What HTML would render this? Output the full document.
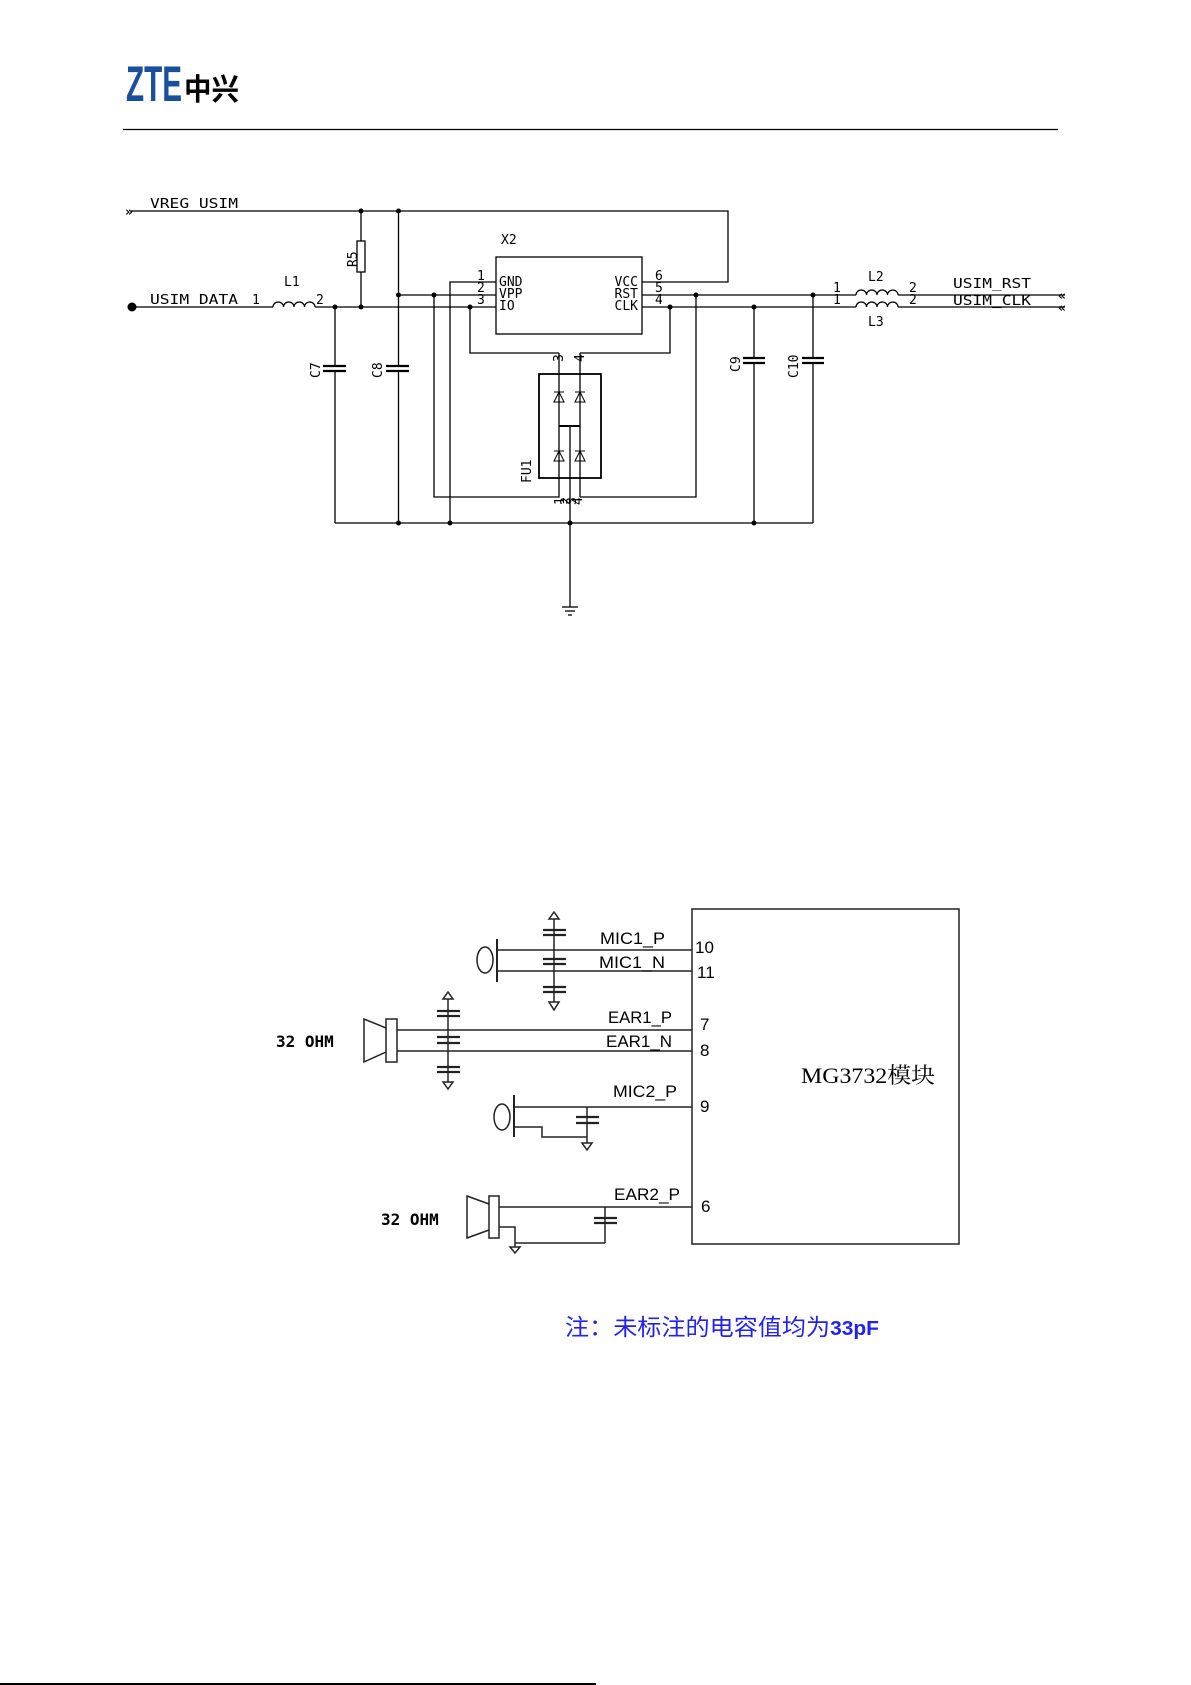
<!DOCTYPE html>
<html><head><meta charset="utf-8"><style>
html,body{margin:0;padding:0;background:#fff}
svg{display:block}
.m{font-family:"DejaVu Sans Mono","Liberation Mono",monospace;font-size:13px;fill:#000}
.s{font-family:"Liberation Sans",sans-serif;fill:#000}
</style></head><body>
<svg width="1191" height="1685" viewBox="0 0 1191 1685" xmlns="http://www.w3.org/2000/svg">
<text x="126" y="101" font-family="Liberation Sans,sans-serif" font-weight="bold" font-size="50" fill="#1a4f9c" textLength="56" lengthAdjust="spacingAndGlyphs">ZTE</text>
<text x="184" y="100" font-family="Liberation Sans,'Noto Sans CJK SC',sans-serif" font-weight="bold" font-size="30" fill="#000" textLength="55" lengthAdjust="spacingAndGlyphs">中兴</text>
<line x1="123" y1="129.5" x2="1058" y2="129.5" stroke="#000" stroke-width="1.2"/>
<line x1="0" y1="1684" x2="596" y2="1684" stroke="#000" stroke-width="2"/>

<g stroke="#000" stroke-width="1.3" fill="none">
<polyline points="131,211 728,211 728,282 642,282"/>
<line x1="361" y1="211" x2="361" y2="307"/>
<rect x="357" y="241" width="8" height="31" fill="#fff"/>
<line x1="398.5" y1="211" x2="398.5" y2="366"/>
<line x1="398.5" y1="371" x2="398.5" y2="523"/>
<line x1="131" y1="307" x2="273" y2="307"/>
<path d="M273,307 a5.25,5 0 0 1 10.5,0 a5.25,5 0 0 1 10.5,0 a5.25,5 0 0 1 10.5,0 a5.25,5 0 0 1 10.5,0"/>
<line x1="315" y1="307" x2="496" y2="307"/>
<line x1="335" y1="307" x2="335" y2="366"/>
<line x1="335" y1="371" x2="335" y2="523"/>
<line x1="335" y1="523" x2="813" y2="523"/>
<polyline points="496,282 450,282 450,523"/>
<line x1="398.5" y1="295" x2="496" y2="295"/>
<polyline points="434,295 434,497 559,497 559,353"/>
<polyline points="470,307 470,353 559,353"/>
<polyline points="580,353 670,353 670,307"/>
<line x1="580" y1="353" x2="580" y2="497"/>
<polyline points="580,497 696,497 696,295"/>
<rect x="496" y="257" width="146" height="77"/>
<rect x="539" y="374" width="62" height="104" stroke-width="1.8"/>
<line x1="559" y1="426" x2="580" y2="426" stroke-width="2"/>
<line x1="570" y1="426" x2="570" y2="607"/>
<line x1="642" y1="295" x2="856" y2="295"/>
<line x1="642" y1="307" x2="856" y2="307"/>
<path d="M856,295 a5.25,5 0 0 1 10.5,0 a5.25,5 0 0 1 10.5,0 a5.25,5 0 0 1 10.5,0 a5.25,5 0 0 1 10.5,0"/>
<path d="M856,307 a5.25,5 0 0 1 10.5,0 a5.25,5 0 0 1 10.5,0 a5.25,5 0 0 1 10.5,0 a5.25,5 0 0 1 10.5,0"/>
<line x1="898" y1="295" x2="1065" y2="295"/>
<line x1="898" y1="307" x2="1065" y2="307"/>
<line x1="754" y1="307" x2="754" y2="358"/><line x1="754" y1="363" x2="754" y2="523"/>
<line x1="813" y1="295" x2="813" y2="358"/><line x1="813" y1="363" x2="813" y2="523"/>
</g>
<g stroke="#000" stroke-width="2.2">
<line x1="323" y1="366" x2="346" y2="366"/><line x1="323" y1="371" x2="346" y2="371"/>
<line x1="386" y1="366" x2="409" y2="366"/><line x1="386" y1="371" x2="409" y2="371"/>
<line x1="743" y1="358" x2="765" y2="358"/><line x1="743" y1="363" x2="765" y2="363"/>
<line x1="802" y1="358" x2="824" y2="358"/><line x1="802" y1="363" x2="824" y2="363"/>
<line x1="562" y1="607" x2="578" y2="607" stroke-width="1.3"/>
<line x1="565" y1="611" x2="575" y2="611" stroke-width="1.3"/>
<line x1="568" y1="615" x2="572" y2="615" stroke-width="1.3"/>
</g>
<g stroke="#000" stroke-width="1" fill="none">
<path d="M554,392 h10 M554,402 l5,-10 l5,10 z"/>
<path d="M575,392 h10 M575,402 l5,-10 l5,10 z"/>
<path d="M554,451 h10 M554,461 l5,-10 l5,10 z"/>
<path d="M575,451 h10 M575,461 l5,-10 l5,10 z"/>
</g>
<g fill="#000">
<circle cx="361" cy="211" r="2.5"/><circle cx="398.5" cy="211" r="2.5"/>
<circle cx="398.5" cy="295" r="2.5"/><circle cx="434" cy="295" r="2.5"/>
<circle cx="335" cy="307" r="2.5"/><circle cx="361" cy="307" r="2.5"/><circle cx="470" cy="307" r="2.5"/>
<circle cx="398.5" cy="523" r="2.5"/><circle cx="450" cy="523" r="2.5"/><circle cx="570" cy="523" r="2.5"/><circle cx="754" cy="523" r="2.5"/>
<circle cx="696" cy="295" r="2.5"/><circle cx="670" cy="307" r="2.5"/><circle cx="754" cy="307" r="2.5"/><circle cx="813" cy="295" r="2.5"/>
<circle cx="132" cy="307" r="4.5"/>
<text x="125" y="216" class="m" font-weight="bold" font-size="15">»</text>
<text x="1058" y="300" class="m" font-weight="bold" font-size="15">«</text>
<text x="1058" y="312" class="m" font-weight="bold" font-size="15">«</text>
</g>
<text x="150" y="208" class="m" textLength="88" lengthAdjust="spacingAndGlyphs">VREG_USIM</text>
<text x="150" y="304" class="m" textLength="88" lengthAdjust="spacingAndGlyphs">USIM_DATA</text>
<text x="252" y="304" class="m">1</text>
<text x="284" y="286" class="m">L1</text>
<text x="316" y="304" class="m" font-size="11">2</text>
<text x="501" y="244" class="m">X2</text>
<text x="499" y="286" class="m" font-size="10">GND</text>
<text x="499" y="298" class="m" font-size="10">VPP</text>
<text x="499" y="310" class="m" font-size="10">IO</text>
<text x="638" y="286" class="m" font-size="10" text-anchor="end">VCC</text>
<text x="638" y="298" class="m" font-size="10" text-anchor="end">RST</text>
<text x="638" y="310" class="m" font-size="10" text-anchor="end">CLK</text>
<text x="477" y="280" class="m" font-size="10">1</text>
<text x="477" y="292" class="m" font-size="10">2</text>
<text x="477" y="304" class="m" font-size="10">3</text>
<text x="655" y="280" class="m" font-size="10">6</text>
<text x="655" y="292" class="m" font-size="10">5</text>
<text x="655" y="304" class="m" font-size="10">4</text>
<text x="868" y="281" class="m">L2</text>
<text x="868" y="326" class="m">L3</text>
<text x="833" y="292" class="m" font-size="11">1</text>
<text x="833" y="304" class="m" font-size="11">1</text>
<text x="909" y="292" class="m" font-size="11">2</text>
<text x="909" y="304" class="m" font-size="11">2</text>
<text x="953" y="288" class="m" textLength="78" lengthAdjust="spacingAndGlyphs">USIM_RST</text>
<text x="953" y="305" class="m" textLength="78" lengthAdjust="spacingAndGlyphs">USIM_CLK</text>
<text transform="translate(357,267) rotate(-90)" class="m">R5</text>
<text transform="translate(320,378) rotate(-90)" class="m">C7</text>
<text transform="translate(382,378) rotate(-90)" class="m">C8</text>
<text transform="translate(740,372) rotate(-90)" class="m">C9</text>
<text transform="translate(798,378) rotate(-90)" class="m">C10</text>
<text transform="translate(531,483) rotate(-90)" class="m">FU1</text>
<text transform="translate(563,362) rotate(-90)" class="m" font-size="9">3</text>
<text transform="translate(584,362) rotate(-90)" class="m" font-size="9">4</text>
<text transform="translate(564,505) rotate(-90)" class="m" font-size="9">1</text>
<text transform="translate(570,505) rotate(-90)" class="m" font-size="9">2</text>
<text transform="translate(576,505) rotate(-90)" class="m" font-size="9">3</text>
<text transform="translate(582,505) rotate(-90)" class="m" font-size="9">4</text>

<g stroke="#222" stroke-width="1.5" fill="none">
<rect x="692" y="909" width="267" height="335"/>
<line x1="497" y1="950" x2="692" y2="950"/><line x1="497" y1="971" x2="692" y2="971"/>
<line x1="497" y1="939" x2="497" y2="982" stroke-width="2"/>
<ellipse cx="485" cy="960" rx="8" ry="13"/>
<line x1="554" y1="919" x2="554" y2="1002"/>
<path d="M549,919 L554,912 L559,919 Z"/><path d="M549,1002 L559,1002 L554,1010 Z"/>
<line x1="397" y1="1030" x2="692" y2="1030"/><line x1="397" y1="1051" x2="692" y2="1051"/>
<rect x="386" y="1019" width="11" height="43"/>
<path d="M386,1028 L364,1019 L364,1062 L386,1052"/>
<line x1="448" y1="999" x2="448" y2="1082"/>
<path d="M443,999 L448,992 L453,999 Z"/><path d="M443,1082 L453,1082 L448,1089 Z"/>
<line x1="514" y1="1107" x2="692" y2="1107"/>
<line x1="514" y1="1095" x2="514" y2="1137" stroke-width="2"/>
<ellipse cx="502" cy="1117" rx="8" ry="13"/>
<polyline points="514,1127 542,1127 542,1137 587,1137"/>
<line x1="587" y1="1107" x2="587" y2="1143"/>
<path d="M582,1143 L592,1143 L587,1150 Z"/>
<line x1="499" y1="1207" x2="692" y2="1207"/>
<rect x="489" y="1196" width="10" height="42"/>
<path d="M489,1204 L467,1196 L467,1238 L489,1230"/>
<polyline points="499,1227 515,1227 515,1247"/>
<line x1="515" y1="1243" x2="605" y2="1243"/>
<line x1="605" y1="1207" x2="605" y2="1243"/>
<path d="M510,1247 L520,1247 L515,1253 Z"/>
</g>
<g stroke="#222" stroke-width="2.2">
<line x1="543" y1="930" x2="566" y2="930"/><line x1="543" y1="935" x2="566" y2="935"/>
<line x1="543" y1="959" x2="566" y2="959"/><line x1="543" y1="964" x2="566" y2="964"/>
<line x1="543" y1="987" x2="566" y2="987"/><line x1="543" y1="992" x2="566" y2="992"/>
<line x1="437" y1="1011" x2="460" y2="1011"/><line x1="437" y1="1016" x2="460" y2="1016"/>
<line x1="437" y1="1037" x2="460" y2="1037"/><line x1="437" y1="1043" x2="460" y2="1043"/>
<line x1="437" y1="1067" x2="460" y2="1067"/><line x1="437" y1="1072" x2="460" y2="1072"/>
<line x1="576" y1="1117" x2="599" y2="1117"/><line x1="576" y1="1123" x2="599" y2="1123"/>
<line x1="594" y1="1218" x2="617" y2="1218"/><line x1="594" y1="1223" x2="617" y2="1223"/>
</g>
<g class="s" font-size="17">
<text x="600" y="944" textLength="65" lengthAdjust="spacingAndGlyphs">MIC1_P</text>
<text x="599" y="968" textLength="66" lengthAdjust="spacingAndGlyphs">MIC1_N</text>
<text x="608" y="1023" textLength="64" lengthAdjust="spacingAndGlyphs">EAR1_P</text>
<text x="606" y="1047" textLength="66" lengthAdjust="spacingAndGlyphs">EAR1_N</text>
<text x="613" y="1097" textLength="64" lengthAdjust="spacingAndGlyphs">MIC2_P</text>
<text x="614" y="1200" textLength="66" lengthAdjust="spacingAndGlyphs">EAR2_P</text>
<text x="695" y="953">10</text>
<text x="697" y="978">11</text>
<text x="700" y="1030">7</text>
<text x="700" y="1056">8</text>
<text x="700" y="1112">9</text>
<text x="701" y="1212">6</text>
</g>
<text x="276" y="1047" font-family="DejaVu Sans Mono,monospace" font-weight="bold" font-size="16">32 OHM</text>
<text x="381" y="1225" font-family="DejaVu Sans Mono,monospace" font-weight="bold" font-size="16">32 OHM</text>
<text x="801" y="1083" font-family="Liberation Serif,'Noto Serif CJK SC',serif" font-size="22" textLength="134" lengthAdjust="spacingAndGlyphs">MG3732模块</text>
<text x="565" y="1335" font-family="Liberation Sans,'Noto Sans CJK SC',sans-serif" font-size="23" fill="#2222ee" textLength="314" lengthAdjust="spacingAndGlyphs">注：未标注的电容值均为<tspan font-weight="bold" font-size="20">33pF</tspan></text>
</svg>
</body></html>
